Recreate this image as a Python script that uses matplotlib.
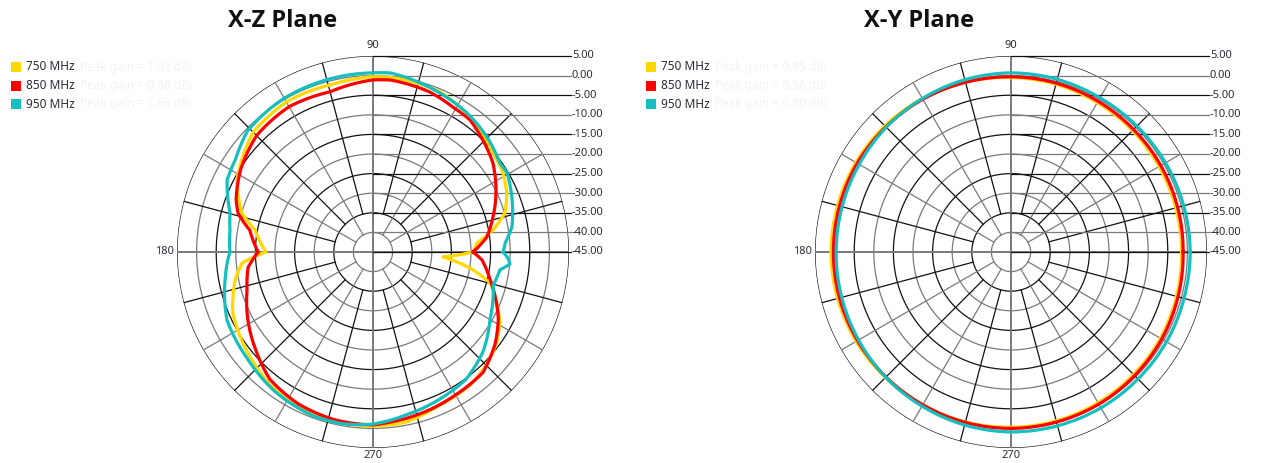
import numpy as np
import matplotlib
matplotlib.use("Agg")
import matplotlib.pyplot as plt
from matplotlib.patches import Rectangle

# ---------------- data ----------------
freq_labels = ["750 MHz", "850 MHz", "950 MHz"]
series_colors = ["#FFD800", "#FF0000", "#16BFBF"]
xz_peak_text = ["Peak gain = 1.02 dBi", "Peak gain = 0.38 dBi", "Peak gain = 1.66 dBi"]
xy_peak_text = ["Peak gain = 0.95 dBi", "Peak gain = 0.36 dBi", "Peak gain = 0.80 dBi"]

scale_levels = [5, 0, -5, -10, -15, -20, -25, -30, -35, -40, -45]
scale_labels = ["5.00", "0.00", "-5.00", "-10.00", "-15.00", "-20.00",
                "-25.00", "-30.00", "-35.00", "-40.00", "-45.00"]
angle_labels = ["90", "180", "270"]

# X-Z plane
xz_750_deg = [0, 5, 10.4, 16.5, 23.8, 31.3, 39.5, 48.7, 57.6, 67.3, 80, 90, 104, 120, 135,
              152, 163.4, 169.4, 180, 184.8, 191.5, 203.5, 215, 230, 245, 260, 270, 281,
              293.6, 306.1, 315, 323, 331.1, 335.5, 342.4, 345.2, 350.6, 356, 360]
xz_750_db = [-19.5, -18.4, -13.9, -9.9, -7.7, -6.2, -5.3, -3.7, -2.1, -0.7, -0.3, -0.3, -1.0, -0.8, -1.8,
             -5.7, -10.1, -14.4, -17.7, -11.5, -9.1, -6.0, -4.5, -2.5, -1.2, -0.7, -0.6, -0.8,
             -2.4, -3.0, -4.2, -5.7, -8.0, -10.0, -12.9, -14.1, -19.9, -27.1, -19.5]

xz_850_deg = [0, 7.5, 16.3, 27.9, 36.6, 45.5, 53.7, 61.1, 70.4, 84.4, 90, 105, 120, 135,
              148, 159, 164, 170, 180, 187, 197, 208, 220, 231, 244, 257, 270, 276,
              287.4, 300, 312.5, 323, 332, 338, 347, 355.8, 360]
xz_850_db = [-19.5, -15.7, -13.1, -9.5, -6.9, -5.0, -3.2, -2.8, -1.7, -0.9, -1.1, -2.7, -2.2, -3.0,
             -5.2, -7.6, -9.2, -13.1, -15.7, -12.9, -11.4, -8.8, -6.0, -3.2, -1.8, -1.1, -0.9, -1.4,
             -2.1, -2.9, -3.4, -6.0, -8.8, -11.1, -14.4, -17.1, -19.5]

xz_950_deg = [0, 3.9, 10.2, 21.6, 30.5, 35, 45.2, 55.9, 67.1, 84.6, 90, 105, 120, 136,
              146, 153.7, 164.7, 171.3, 180, 184.3, 190.7, 205, 220, 235, 250, 260, 270,
              281.4, 294.5, 306.2, 317.7, 330.2, 344.6, 352, 355, 357.5, 360]
xz_950_db = [-11.8, -11.2, -9.0, -6.9, -5.3, -5.5, -3.7, -2.2, -1.0, 0.9, 0.7, 0.5, 0.3, -0.5,
             -2.7, -3.5, -7.2, -8.1, -8.5, -7.7, -6.6, -3.9, -3.0, -1.5, -0.5, -0.5, -1.1,
             -2.6, -3.8, -4.8, -7.1, -10.6, -13.2, -12.3, -9.9, -10.6, -11.8]

# X-Y plane
xy_deg = [0, 15, 30, 45, 60, 75, 90, 105, 120, 135, 150, 165, 180,
          195, 210, 225, 240, 255, 270, 285, 300, 315, 330, 345, 360]
xy_750_db = [-1.5, -1.5, -1.4, -1.2, -1.0, -0.7, -0.5, -0.1, 0.2, 0.5, 0.7, 0.8, 0.9,
             0.8, 0.6, 0.3, 0.1, -0.1, -0.3, -0.4, -0.6, -0.8, -1.0, -1.3, -1.5]
xy_850_db = [-1.1, -1.0, -0.9, -0.8, -0.6, -0.4, -0.3, -0.2, 0.0, 0.1, 0.3, 0.3, 0.3,
             0.3, 0.2, 0.1, 0.0, 0.0, 0.0, -0.1, -0.2, -0.4, -0.6, -0.9, -1.1]
xy_950_db = [0.7, 0.6, 0.5, 0.4, 0.4, 0.6, 0.7, 0.5, 0.2, 0.0, -0.3, -0.4, -0.4,
             -0.3, -0.1, 0.2, 0.4, 0.7, 0.9, 0.9, 0.9, 0.8, 0.8, 0.7, 0.7]

R_MIN, R_MAX = -45, 5

# ---------------- figure ----------------
W, H = 1264, 463
fig = plt.figure(figsize=(W / 100, H / 100), dpi=100)
fig.patch.set_facecolor("white")

BLACK = "#111111"
GRAY = "#7a7a7a"
TXT = "#2b2b3a"


def make_panel(cx, cy, rad, title, title_x, series, peak_texts, leg_x):
    ax = fig.add_axes([(cx - rad) / W, (H - cy - rad) / H, 2 * rad / W, 2 * rad / H],
                      projection="polar")
    ax.set_theta_zero_location("E")
    ax.set_theta_direction(1)
    ax.set_ylim(R_MIN, R_MAX)
    ax.set_xticks([])
    ax.set_yticks([])
    ax.grid(False)
    ax.spines["polar"].set_visible(False)
    ax.patch.set_alpha(0)
    unit = 1.0 / (2 * rad)  # axes fraction per pixel

    th = np.linspace(0, 2 * np.pi, 721)
    # rings
    for k, lvl in enumerate(range(-40, 10, 5), start=1):
        col = BLACK if k % 2 == 0 else GRAY
        ax.plot(th, np.full_like(th, lvl), color=col, lw=0.9, zorder=1)
    # spokes
    for a in range(0, 360, 15):
        t = np.deg2rad(a)
        if a % 90 == 0:
            ax.plot([t, t], [R_MIN, R_MAX], color=GRAY, lw=1.4, zorder=1)
        elif a % 30 == 0:
            ax.plot([t, t], [-40, R_MAX], color=GRAY, lw=0.9, zorder=1)
        else:
            ax.plot([t, t], [-35, R_MAX], color=BLACK, lw=0.9, zorder=1)
    # scale lines + labels on the right
    for k, (lvl, lab) in enumerate(zip(scale_levels, scale_labels)):
        yax = 0.5 + 0.5 * (lvl - R_MIN) / (R_MAX - R_MIN)
        col = BLACK if k % 2 == 0 else GRAY
        ax.plot([0.5, 0.5 + 198 * unit], [yax, yax], transform=ax.transAxes,
                color=col, lw=0.9, clip_on=False, zorder=1)
        ax.text(0.5 + 199 * unit, yax, lab, transform=ax.transAxes,
                ha="left", va="center", fontsize=8, color=TXT,
                family="Noto Sans", fontweight="bold" if lvl == 5 else "normal")
    # angle labels
    ax.text(0.5, 0.5 + 207 * unit, angle_labels[0], transform=ax.transAxes,
            ha="center", va="center", fontsize=8, color=TXT, family="Noto Sans")
    ax.text(0.5 - 199 * unit, 0.5, angle_labels[1], transform=ax.transAxes,
            ha="right", va="center", fontsize=8, color=TXT, family="Noto Sans")
    ax.text(0.5, 0.5 - 203 * unit, angle_labels[2], transform=ax.transAxes,
            ha="center", va="center", fontsize=8, color=TXT, family="Noto Sans")

    # data curves (segments follow the polar scale between samples)
    for (deg, db), col in zip(series, series_colors):
        line, = ax.plot(np.deg2rad(deg), db, color=col, lw=2.3, zorder=3,
                        solid_joinstyle="round", clip_on=False)
        line.get_path()._interpolation_steps = 24

    # title
    fig.text(title_x / W, 1 - 21 / H, title, ha="center", va="center",
             fontsize=17, fontweight="bold", family="Open Sans", color="#111111")

    # legend
    for i, (lab, col, pk) in enumerate(zip(freq_labels, series_colors, peak_texts)):
        yc = 67 + i * 18.5
        fig.add_artist(Rectangle((leg_x / W, 1 - (yc + 5) / H), 10 / W, 10 / H,
                                 transform=fig.transFigure, facecolor=col,
                                 edgecolor="none"))
        fig.text((leg_x + 15) / W, 1 - yc / H, lab, ha="left", va="center",
                 fontsize=8.5, color=TXT, family="Noto Sans")
        fig.text((leg_x + 69) / W, 1 - yc / H, pk, ha="left", va="center",
                 fontsize=8.5, color="#f3f3f3", family="Noto Sans")
    return ax


make_panel(373, 252, 196, "X-Z Plane", 283,
           [(xz_750_deg, xz_750_db), (xz_850_deg, xz_850_db), (xz_950_deg, xz_950_db)],
           xz_peak_text, 11)
make_panel(1011, 252, 196, "X-Y Plane", 919,
           [(xy_deg, xy_750_db), (xy_deg, xy_850_db), (xy_deg, xy_950_db)],
           xy_peak_text, 646)

fig.savefig("out.png", dpi=100, facecolor="white")
